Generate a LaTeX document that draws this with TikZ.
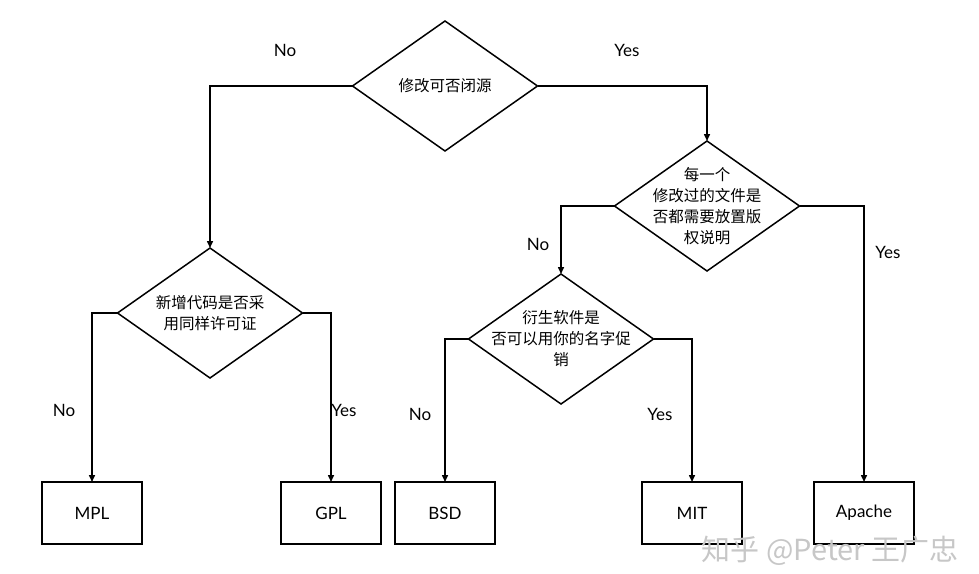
\documentclass[tikz,border=0pt]{standalone}
\usepackage{fontspec}
\setmainfont{Lato}
\newfontfamily\cjk{Noto Sans CJK SC}
\usetikzlibrary{shapes.geometric,arrows.meta}

\tikzset{
  ask/.style={diamond, draw, line width=1.5pt, inner sep=0pt, outer sep=0pt,
              minimum width=185pt, minimum height=130pt},
  asktext/.style={align=center, font=\cjk\fontsize{15.5}{21}\selectfont},
  lic/.style={rectangle, draw, line width=1.5pt, outer sep=0pt,
              minimum width=100pt, minimum height=62pt,
              font=\fontsize{17}{20}\selectfont},
  ans/.style={font=\fontsize{17}{20}\selectfont},
  flow/.style={->, line width=1.5pt}
}

\begin{document}
\begin{tikzpicture}[x=1pt, y=-1pt, >={Triangle[length=7pt,width=6pt]}]
\useasboundingbox (0,0) rectangle (979,573);

% Domande
\node[ask] (d1) at (445,86) {};
\node[asktext] at (d1) {修改可否闭源};
\node[ask] (d2) at (210,313) {};
\node[asktext] at (d2) {新增代码是否采\\用同样许可证};
\node[ask] (d3) at (707,206) {};
\node[asktext] at (d3) {每一个\\修改过的文件是\\否都需要放置版\\权说明};
\node[ask] (d4) at (561,339) {};
\node[asktext] at (d4) {衍生软件是\\否可以用你的名字促\\销};

% Licenze
\foreach \name/\x/\txt in {mpl/92/MPL, gpl/331/GPL, bsd/445/BSD,
                           mit/692/MIT, apache/864/Apache}
  \node[lic] (\name) at (\x,513) {\txt};

% Collegamenti
\draw[flow] (d1.west) -| (d2.north);
\draw[flow] (d1.east) -| (d3.north);
\draw[flow] (d2.west) -| (mpl.north);
\draw[flow] (d2.east) -| (gpl.north);
\draw[flow] (d3.west) -| (d4.north);
\draw[flow] (d3.east) -| (apache.north);
\draw[flow] (d4.west) -| (bsd.north);
\draw[flow] (d4.east) -| (mit.north);

% Risposte
\foreach \x/\y/\txt in {285/50/No, 627/50/Yes, 538/244/No, 888/252/Yes,
                        64/410/No, 344/410/Yes, 420/414/No, 660/414/Yes}
  \node[ans] at (\x,\y) {\txt};

% Filigrana
\node[text=black!22, font=\cjk\fontsize{29}{32}\selectfont] (wm) at (830,551)
  {知乎 @Peter 王广忠};

\end{tikzpicture}
\end{document}
